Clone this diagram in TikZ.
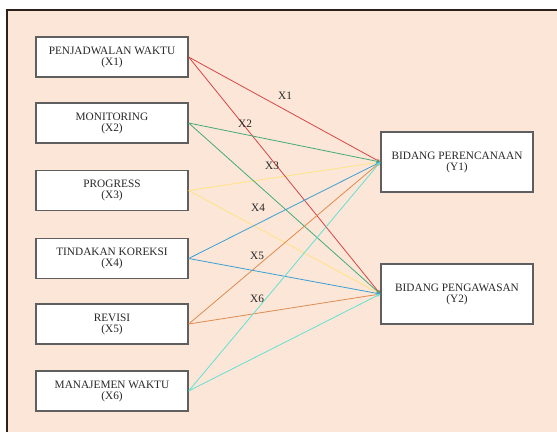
\documentclass[tikz,border=0pt]{standalone}
\usepackage{fontspec}
\setmainfont{Liberation Serif}
\usetikzlibrary{arrows.meta, positioning}
\definecolor{bgPeach}{RGB}{251, 230, 216}
\definecolor{frameDark}{RGB}{45, 32, 26}
\definecolor{boxGray}{RGB}{95, 95, 95}
\definecolor{textDark}{RGB}{40, 40, 40}
\definecolor{linkRed}{RGB}{215, 70, 70}
\definecolor{linkGreen}{RGB}{70, 170, 120}
\definecolor{linkYellow}{RGB}{255, 228, 130}
\definecolor{linkBlue}{RGB}{60, 160, 210}
\definecolor{linkOrange}{RGB}{222, 140, 80}
\definecolor{linkCyan}{RGB}{100, 225, 210}

\begin{document}
\begin{tikzpicture}[x=1pt, y=-1pt,
    varbox/.style={draw=boxGray, fill=white, line width=1.3pt, align=center,
        minimum width=152pt, minimum height=40pt, inner sep=2pt, text=textDark,
        font=\fontsize{11.3}{11}\selectfont},
    resbox/.style={varbox, minimum height=60pt},
    link/.style={line width=0.8pt, -{Stealth[length=4pt, width=3.5pt]}},
    lbl/.style={font=\fontsize{11.3}{11}\selectfont, text=textDark, inner sep=1pt}]
    \useasboundingbox (0, 0) rectangle (557, 432);

    % Background panel
    \fill[bgPeach] (7, 10) rectangle (557, 432);
    \draw[frameDark, line width=2pt] (7, 432) -- (7, 10) -- (557, 10);

    % Independent variables
    \node[varbox] (x1) at (112, 57) {PENJADWALAN WAKTU\\(X1)};
    \node[varbox] (x2) at (112, 123) {MONITORING\\(X2)};
    \node[varbox] (x3) at (112, 190.5) {PROGRESS\\(X3)};
    \node[varbox] (x4) at (112, 258.5) {TINDAKAN KOREKSI\\(X4)};
    \node[varbox] (x5) at (112, 324) {REVISI\\(X5)};
    \node[varbox] (x6) at (112, 391) {MANAJEMEN WAKTU\\(X6)};

    % Dependent variables
    \node[resbox] (y1) at (457, 162) {BIDANG PERENCANAAN\\(Y1)};
    \node[resbox] (y2) at (457, 294) {BIDANG PENGAWASAN\\(Y2)};

    % Links
    \draw[link, linkYellow] (x3.east) -- (y1.west);
    \draw[link, linkYellow] (x3.east) -- (y2.west);
    \draw[link, linkRed] (x1.east) -- (y1.west);
    \draw[link, linkRed] (x1.east) -- (y2.west);
    \draw[link, linkGreen] (x2.east) -- (y1.west);
    \draw[link, linkGreen] (x2.east) -- (y2.west);
    \draw[link, linkOrange] (x5.east) -- (y1.west);
    \draw[link, linkOrange] (x5.east) -- (y2.west);
    \draw[link, linkBlue] (x4.east) -- (y1.west);
    \draw[link, linkBlue] (x4.east) -- (y2.west);
    \draw[link, linkCyan] (x6.east) -- (y1.west);
    \draw[link, linkCyan] (x6.east) -- (y2.west);

    % Path labels
    \node[lbl] (l1) at (285, 96) {X1};
    \node[lbl] (l2) at (245, 124) {X2};
    \node[lbl] (l3) at (272, 166) {X3};
    \node[lbl] (l4) at (258, 208) {X4};
    \node[lbl] (l5) at (257, 256) {X5};
    \node[lbl] (l6) at (257, 299) {X6};
\end{tikzpicture}
\end{document}
